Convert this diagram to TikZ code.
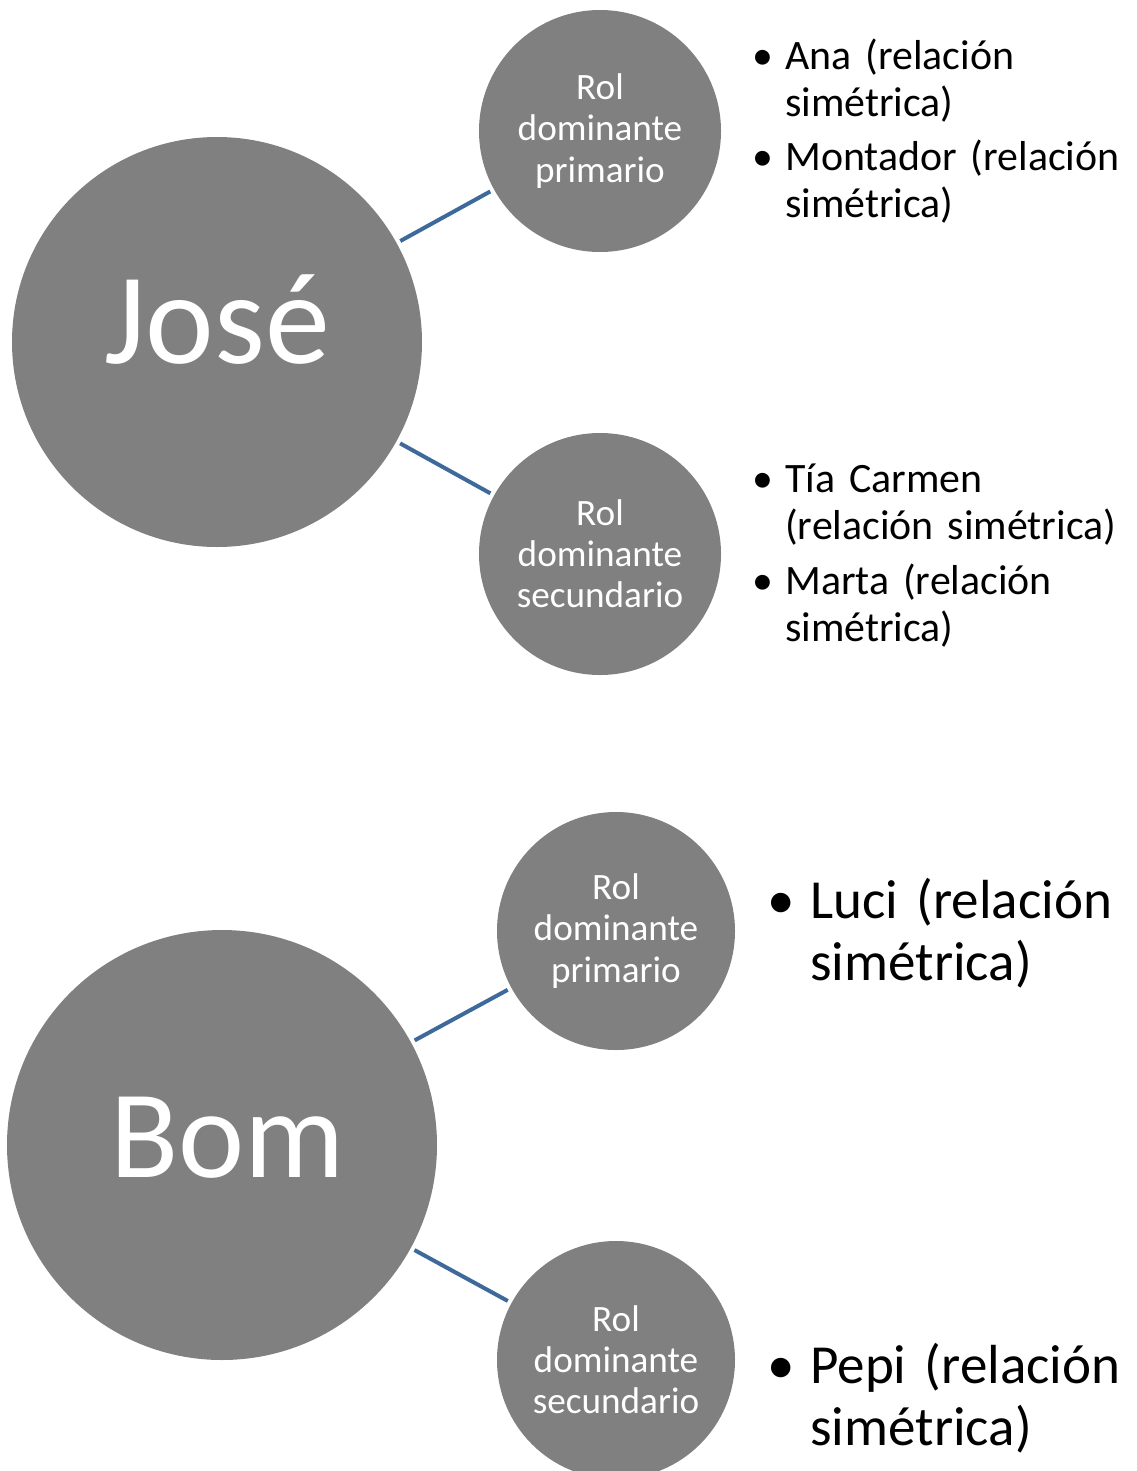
\documentclass[tikz,border=0pt]{standalone}
\usepackage{fontspec}
\setmainfont{Carlito}
\definecolor{circlegray}{RGB}{128,128,128}
\definecolor{tiecolor}{RGB}{62,106,155}
\newlength\bulind
\newcommand\itm[1]{\noindent\makebox[\bulind][l]{\textbullet}\parbox[t]{\dimexpr\linewidth-\bulind}{#1}}

\begin{document}
\begin{tikzpicture}[x=0.75pt, y=-0.75pt,
    person/.style={circle, fill=circlegray, text=white, inner sep=0pt, text depth=0pt},
    role/.style={circle, fill=circlegray, text=white, inner sep=0pt, align=center,
        font=\fontsize{27.9}{30.9}\selectfont},
    tie/.style={draw=tiecolor, line width=3pt, shorten <=3pt, shorten >=3pt},
    items/.style={anchor=base west, inner sep=0pt, text width=300pt,
        font=\fontsize{31.4}{35.25}\selectfont\setlength\bulind{24.75pt}},
    bigitems/.style={items, font=\fontsize{41.3}{46.5}\selectfont\setlength\bulind{32.25pt}}]
    \useasboundingbox (0,0) rectangle (1136,1471);
    \clip (0,0) rectangle (1136,1471);

    \node[person, minimum size=307.5pt, text height=31.5pt, font=\fontsize{97.5}{100}\selectfont] (jose) at (217,342) {José};
    \node[role, minimum size=181.5pt] (joserp) at (600,131) {Rol\\dominante\\primario};
    \node[role, minimum size=181.5pt] (josers) at (600,554) {Rol\\dominante\\secundario};
    \draw[tie] (jose) -- (joserp);
    \draw[tie] (jose) -- (josers);
    \node[items] (joselp) at (752,69) {\itm{Ana (relación\\simétrica)}\par\vspace{12.75pt}\itm{Montador (relación\\simétrica)}};
    \node[items] (josels) at (752,492) {\itm{Tía Carmen\\(relación simétrica)}\par\vspace{13.25pt}\itm{Marta (relación\\simétrica)}};

    \node[person, minimum size=322.5pt, text height=48pt, font=\fontsize{94}{100}\selectfont] (bom) at (222,1145) {\hspace*{8pt}Bom};
    \node[role, minimum size=178.5pt] (bomrp) at (616,931) {Rol\\dominante\\primario};
    \node[role, minimum size=178.5pt] (bomrs) at (616,1360) {Rol\\dominante\\secundario};
    \draw[tie] (bom) -- (bomrp);
    \draw[tie] (bom) -- (bomrs);
    \node[bigitems] (bomlp) at (767,918) {\itm{Luci (relación\\simétrica)}};
    \node[bigitems] (bomls) at (767,1383) {\itm{Pepi (relación\\simétrica)}};
\end{tikzpicture}
\end{document}
